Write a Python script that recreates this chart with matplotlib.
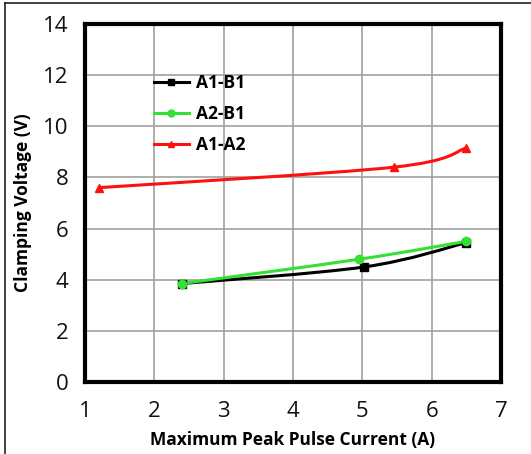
import numpy as np
import matplotlib
matplotlib.use("Agg")
import matplotlib.pyplot as plt
from matplotlib.path import Path
from matplotlib.patches import PathPatch
from matplotlib.lines import Line2D

# Data
a1b1_x = [2.4, 5.03, 6.5]
a1b1_y = [3.85, 4.5, 5.45]
a2b1_x = [2.4, 4.95, 6.5]
a2b1_y = [3.85, 4.8, 5.5]
a1a2_x = [1.2, 5.45, 6.5]
a1a2_y = [7.6, 8.4, 9.15]

x_ticks = [1, 2, 3, 4, 5, 6, 7]
y_ticks = [0, 2, 4, 6, 8, 10, 12, 14]

plt.rcParams['font.family'] = ['Open Sans', 'DejaVu Sans']

fig = plt.figure(figsize=(5.31, 4.54), dpi=100)
ax = fig.add_axes([85/531, 1-382/454, (501-85)/531, (382-24)/454])


def smooth_path(xs, ys, tension=1/6):
    # Bezier path through points (Excel-like smoothing), drawn in data coords
    pts = np.column_stack([xs, ys]).astype(float)
    n = len(pts)
    verts = [pts[0]]
    codes = [Path.MOVETO]
    for i in range(n - 1):
        p0 = pts[i - 1] if i > 0 else pts[i]
        p1 = pts[i]
        p2 = pts[i + 1]
        p3 = pts[i + 2] if i + 2 < n else pts[i + 1]
        c1 = p1 + (p2 - p0) * tension
        c2 = p2 - (p3 - p1) * tension
        verts += [c1, c2, p2]
        codes += [Path.CURVE4] * 3
    return Path(verts, codes)


series = [
    (a1b1_x, a1b1_y, 'black', 's', 'A1-B1'),
    (a2b1_x, a2b1_y, '#33e033', 'o', 'A2-B1'),
    (a1a2_x, a1a2_y, '#ff1010', '^', 'A1-A2'),
]
handles = []
for xs, ys, c, m, lab in series:
    ax.add_patch(PathPatch(smooth_path(xs, ys), facecolor='none', edgecolor=c,
                           lw=2.2, zorder=3))
    ax.plot(xs, ys, linestyle='none', marker=m, color=c, markersize=6, zorder=4)
    handles.append(Line2D([], [], color=c, lw=2.2, marker=m, markersize=5, label=lab))

ax.set_xlim(1, 7)
ax.set_ylim(0, 14)
ax.set_xticks(x_ticks)
ax.set_yticks(y_ticks)
ax.tick_params(axis='both', length=0, labelsize=16, colors='#111111')
ax.tick_params(axis='y', pad=12)
ax.tick_params(axis='x', pad=14)
ax.grid(True, color='#a0a0a0', lw=1.2)
ax.set_axisbelow(True)
for s in ax.spines.values():
    s.set_linewidth(3)
    s.set_color('black')

ax.set_xlabel('Maximum Peak Pulse Current (A)', fontsize=12.5, fontweight='bold', labelpad=6)
ax.set_ylabel('Clamping Voltage (V)', fontsize=12.5, fontweight='bold', labelpad=8)

leg = ax.legend(handles=handles, loc='upper left', bbox_to_anchor=(0.145, 0.885),
                frameon=False, prop={'weight': 'bold', 'size': 12.5},
                handlelength=2.0, labelspacing=0.75, handletextpad=0.4,
                borderpad=0.0)

# outer frame lines
fig.add_artist(Line2D([5/531, 5/531], [0, 1-3/454], transform=fig.transFigure,
                      color='#222222', lw=1.2))
fig.add_artist(Line2D([5/531, 1], [1-3/454, 1-3/454], transform=fig.transFigure,
                      color='#222222', lw=1.2))

fig.savefig('out.png', dpi=100)
